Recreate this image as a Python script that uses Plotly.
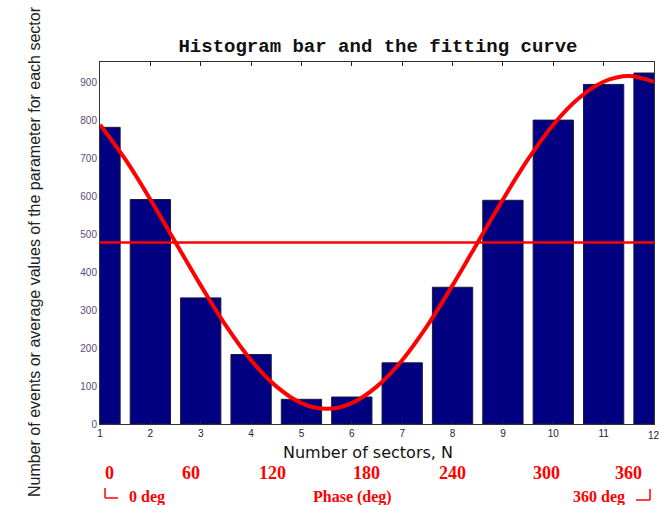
import plotly.graph_objects as go

# ---- data ----
sectors = [1, 2, 3, 4, 5, 6, 7, 8, 9, 10, 11, 12]
counts = [781, 591, 332, 183, 65, 71, 161, 360, 589, 800, 894, 924]
mean_level = 478
fit_x = [1, 1.5, 2, 2.5, 3, 3.5, 4, 4.5, 5, 5.5, 6, 6.5, 7, 7.5, 8, 8.5,
         9, 9.5, 10, 10.5, 11, 11.5, 12]
fit_y = [788, 697, 591, 478, 365, 259, 168, 99, 55, 40, 55, 99, 168, 259,
         365, 478, 591, 697, 788, 857, 901, 916, 901]
y_ticks = [0, 100, 200, 300, 400, 500, 600, 700, 800, 900]
phase_labels = ["0", "60", "120", "180", "240", "300", "360"]

W, H = 659, 505
L, R, T, B = 100, 5, 62, 81
PW, PH = W - L - R, H - T - B


def px(x):
    return (x - L) / PW


def py(y):
    return (H - B - y) / PH


fig = go.Figure()
fig.add_trace(go.Bar(
    x=sectors, y=counts, width=0.8,
    marker=dict(color="#000080", line=dict(color="#1a1a40", width=1)),
    showlegend=False,
))
fig.add_trace(go.Scatter(
    x=[sectors[0], sectors[-1]], y=[mean_level, mean_level], mode="lines",
    line=dict(color="#ff0000", width=2.5), showlegend=False,
))
fig.add_trace(go.Scatter(
    x=fit_x, y=fit_y, mode="lines", line=dict(color="#ff0000", width=4, shape="spline"),
    showlegend=False,
))

fig.update_layout(
    width=W, height=H,
    margin=dict(l=L, r=R, t=T, b=B, pad=0),
    paper_bgcolor="white", plot_bgcolor="white",
    bargap=0.2,
    title=dict(
        text="<b>Histogram bar and the fitting curve</b>",
        x=378 / W, xanchor="center", xref="container",
        y=1 - 45 / H, yanchor="middle", yref="container",
        font=dict(family="Liberation Mono", size=19, color="#111111"),
    ),
    xaxis=dict(
        range=[1, 12], tickvals=sectors[:-1], ticktext=[str(s) for s in sectors[:-1]],
        ticks="inside", ticklen=4, tickcolor="#222222",
        showline=True, linecolor="#333333", linewidth=1, mirror="ticks",
        showgrid=False, zeroline=False,
        tickfont=dict(family="Liberation Sans", size=10, color="#222244"),
    ),
    yaxis=dict(
        range=[0, 953], tickvals=y_ticks,
        ticks="inside", ticklen=0, tickcolor="#222222",
        showline=True, linecolor="#333333", linewidth=1, mirror=True,
        showgrid=False, zeroline=False,
        tickfont=dict(family="Liberation Sans", size=10, color="#5a4c80"),
    ),
)

ann = []
# last x tick label (at the plot edge)
ann.append(dict(
    text=str(sectors[-1]), x=sectors[-1], y=py(435), xref="x", yref="paper",
    showarrow=False, xanchor="center", yanchor="middle",
    font=dict(family="Liberation Sans", size=10, color="#222244"),
))
# y-axis title
ann.append(dict(
    text="Number of events or average values of the parameter for each sector",
    x=px(34), y=py(252), xref="paper", yref="paper", showarrow=False,
    textangle=-90, xanchor="center", yanchor="middle",
    font=dict(family="Liberation Sans", size=16, color="#222222"),
))
# x-axis title
ann.append(dict(
    text="Number of sectors, N", x=px(368), y=py(452), xref="paper", yref="paper",
    showarrow=False, xanchor="center", yanchor="middle",
    font=dict(family="DejaVu Sans", size=16, color="#111111"),
))
# phase labels
phase_px = [109, 191, 272, 366, 452, 546, 628]
for lab, xp in zip(phase_labels, phase_px):
    ann.append(dict(
        text="<b>" + lab + "</b>", x=px(xp), y=py(473), xref="paper", yref="paper",
        showarrow=False, xanchor="center", yanchor="middle",
        font=dict(family="Liberation Serif", size=18, color="#ff0000"),
    ))
ann.append(dict(
    text="<b>0 deg</b>", x=px(127), y=py(497), xref="paper", yref="paper",
    showarrow=False, xanchor="left", yanchor="middle",
    font=dict(family="Liberation Serif", size=16, color="#ff0000"),
))
ann.append(dict(
    text="<b>Phase (deg)</b>", x=px(352), y=py(497), xref="paper", yref="paper",
    showarrow=False, xanchor="center", yanchor="middle",
    font=dict(family="Liberation Serif", size=16, color="#ff0000"),
))
ann.append(dict(
    text="<b>360 deg</b>", x=px(627), y=py(497), xref="paper", yref="paper",
    showarrow=False, xanchor="right", yanchor="middle",
    font=dict(family="Liberation Serif", size=16, color="#ff0000"),
))
fig.update_layout(annotations=ann)

# corner brackets
red = dict(color="#ff0000", width=1.5)
fig.add_shape(type="line", xref="paper", yref="paper", x0=px(105), x1=px(105),
              y0=py(488), y1=py(498), line=red)
fig.add_shape(type="line", xref="paper", yref="paper", x0=px(105), x1=px(118),
              y0=py(498), y1=py(498), line=red)
fig.add_shape(type="line", xref="paper", yref="paper", x0=px(650), x1=px(650),
              y0=py(489), y1=py(500), line=red)
fig.add_shape(type="line", xref="paper", yref="paper", x0=px(636), x1=px(650),
              y0=py(500), y1=py(500), line=red)

fig.write_html("out.html")
